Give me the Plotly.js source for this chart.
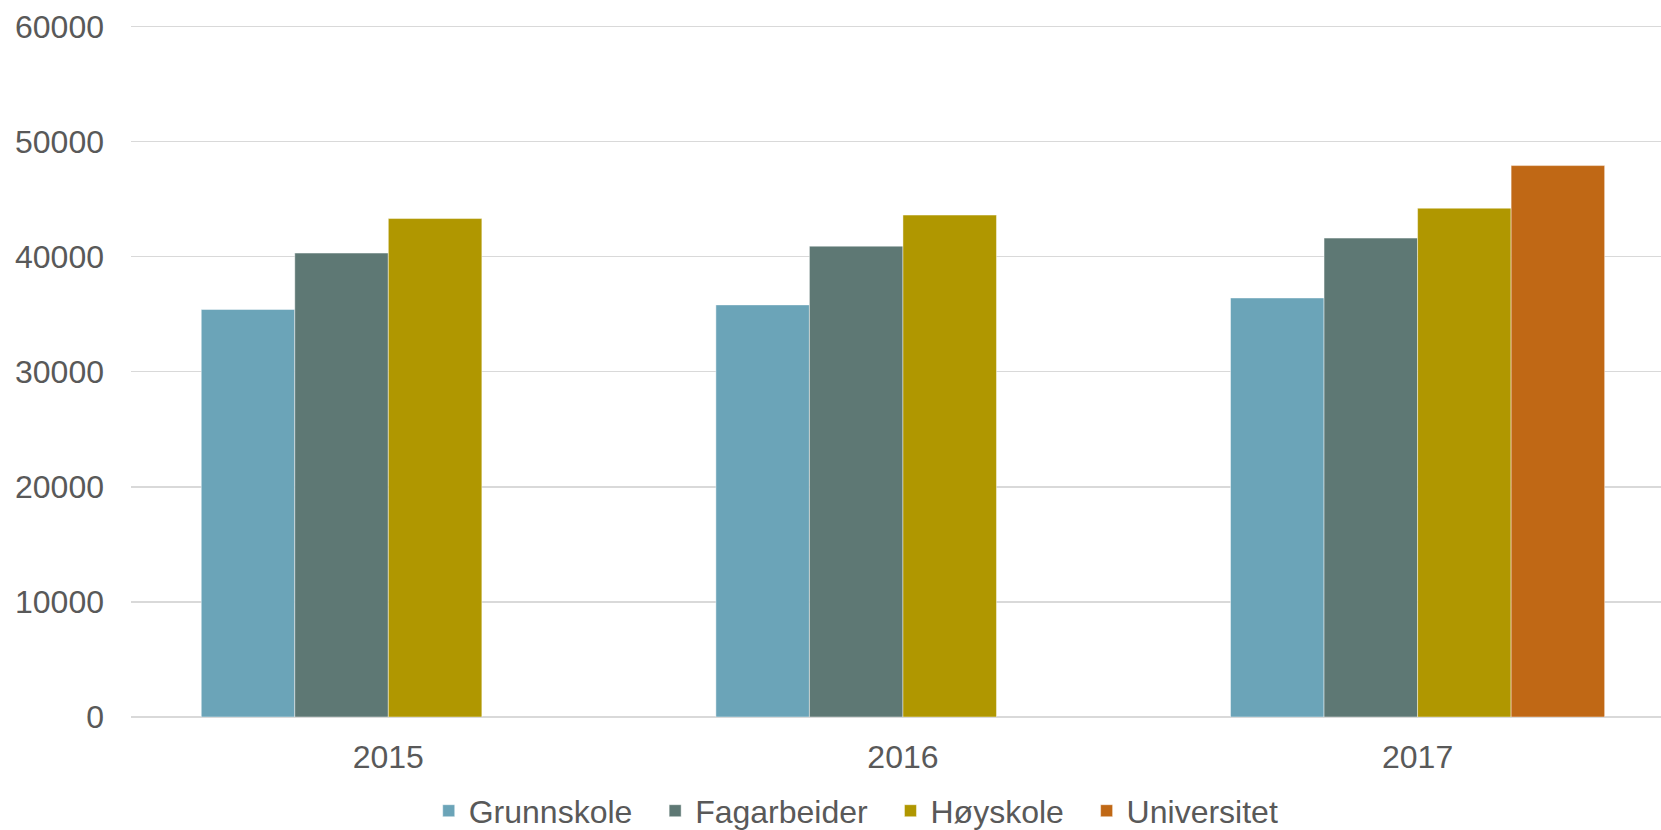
<!DOCTYPE html>
<html>
<head>
<meta charset="utf-8">
<script src="https://cdn.plot.ly/plotly-3.0.1.min.js"></script>
<style>html,body{margin:0;padding:0;background:#fff;}#chart{width:1661px;height:830px;}</style>
</head>
<body>
<div id="chart"></div>
<script>
const years = ["2015", "2016", "2017"];
const grunnskole = [35400, 35800, 36400];
const fagarbeider = [40300, 40900, 41600];
const hoyskole = [43300, 43600, 44200];
const universitet = [null, null, 47900];
const seriesNames = ["Grunnskole", "Fagarbeider", "Høyskole", "Universitet"];
const seriesColors = ["#6ba4b8", "#5e7874", "#b09700", "#c06815"];
const seriesValues = [grunnskole, fagarbeider, hoyskole, universitet];
const yTicks = [0, 10000, 20000, 30000, 40000, 50000, 60000];

const NBSP2 = "\u00a0\u00a0";
const traces = seriesValues.map((vals, i) => ({
  type: "bar",
  name: seriesNames[i] + (i < seriesNames.length - 1 ? NBSP2 : ""),
  x: years,
  y: vals,
  marker: {color: seriesColors[i], line: {color: "rgba(255,255,255,0.45)", width: 1}},
  hoverinfo: "x+y+name"
}));

const font = {family: "Liberation Sans, Arial, sans-serif", size: 32, color: "#595959"};

const layout = {
  width: 1661, height: 830,
  margin: {l: 131, r: 0, t: 24, b: 113, pad: 0, autoexpand: false},
  paper_bgcolor: "#ffffff",
  plot_bgcolor: "#ffffff",
  font: font,
  barmode: "group",
  bargap: 0.273,
  bargroupgap: 0,
  showlegend: true,
  legend: {
    orientation: "h",
    xref: "paper", x: 0.474, xanchor: "center",
    yref: "container", y: 0.023, yanchor: "middle",
    font: font,
    itemwidth: 30,
    traceorder: "normal",
    bgcolor: "rgba(0,0,0,0)"
  },
  xaxis: {
    type: "category",
    range: [-0.5, 2.473],
    showgrid: false,
    showline: false,
    zeroline: false,
    ticks: "",
    tickfont: font,
    ticklabelstandoff: 18
  },
  yaxis: {
    range: [0, 60200],
    tickvals: yTicks,
    ticktext: yTicks.map(String),
    showgrid: true,
    gridcolor: "#d9d9d9",
    gridwidth: 1.5,
    zeroline: true,
    zerolinecolor: "#d9d9d9",
    zerolinewidth: 2,
    showline: false,
    ticks: "",
    tickfont: font,
    ticklabelstandoff: 26
  }
};

Plotly.newPlot("chart", traces, layout, {displayModeBar: false, staticPlot: true});
</script>
</body>
</html>
